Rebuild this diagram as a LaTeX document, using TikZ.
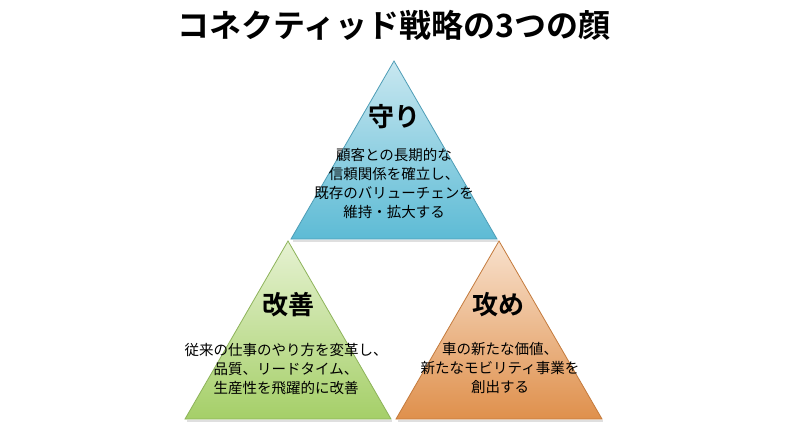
\documentclass[tikz,border=0pt]{standalone}
\usepackage{fontspec}
\setmainfont{Noto Sans CJK JP}
\newfontfamily\jpbold{Noto Sans CJK JP Bold}
\usetikzlibrary{positioning}

\newcommand*{\triw}{103}
\newcommand*{\trih}{178}

\definecolor{bluetop}{HTML}{C8E7F0}
\definecolor{bluebot}{HTML}{5DBBD5}
\definecolor{blueline}{HTML}{4E9DB6}
\definecolor{greentop}{HTML}{E6F2D2}
\definecolor{greenbot}{HTML}{A5CF68}
\definecolor{greenline}{HTML}{8DB35A}
\definecolor{orangetop}{HTML}{F8E1CD}
\definecolor{orangebot}{HTML}{DF904C}
\definecolor{orangeline}{HTML}{C47A3C}

\begin{document}
\begin{tikzpicture}
[
	x=1pt,y=-1pt,
	title/.style={font=\jpbold\fontsize{32}{32}\selectfont,inner sep=0pt},
	head/.style={font=\jpbold\fontsize{26}{26}\selectfont,inner sep=0pt},
	body/.style={font=\fontsize{14.5}{19}\selectfont,align=center,inner sep=0pt},
	tri/.style={line width=0.8pt,line join=miter},
	baseshadow/.style={gray!25,line width=1.5pt}
]

	\useasboundingbox[fill=white] (0,0) rectangle (789,444);

	% apexes
	\coordinate (topapex) at (394,61);
	\coordinate (leftapex) at (288,241);
	\coordinate (rightapex) at (499,241);

	% triangles
	\foreach \ap/\c in {topapex/blue,leftapex/green,rightapex/orange} {
		\draw[baseshadow] ([shift={(-\triw+2,\trih+2)}]\ap) -- ([shift={(\triw+1,\trih+2)}]\ap);
		\shade[tri,top color=\c top,bottom color=\c bot,draw=\c line]
			(\ap) -- ++(\triw,\trih) -- ++(-2*\triw,0) -- cycle;
	}

	% title
	\node[title] (heading) at (394,25) {コネクティッド戦略の3つの顔};

	% top
	\node[head] (mamori) at (394,117) {守り};
	\node[body] (mamoritext) at (394,183) {顧客との長期的な\\信頼関係を確立し、\\既存のバリューチェンを\\維持・拡大する};

	% left
	\node[head] (kaizen) at (288,305) {改善};
	\node[body] (kaizentext) at (286,369) {従来の仕事のやり方を変革し、\\品質、リードタイム、\\生産性を飛躍的に改善};

	% right
	\node[head] (seme) at (498,305) {攻め};
	\node[body] (semetext) at (500,368) {車の新たな価値、\\新たなモビリティ事業を\\創出する};

\end{tikzpicture}
\end{document}
